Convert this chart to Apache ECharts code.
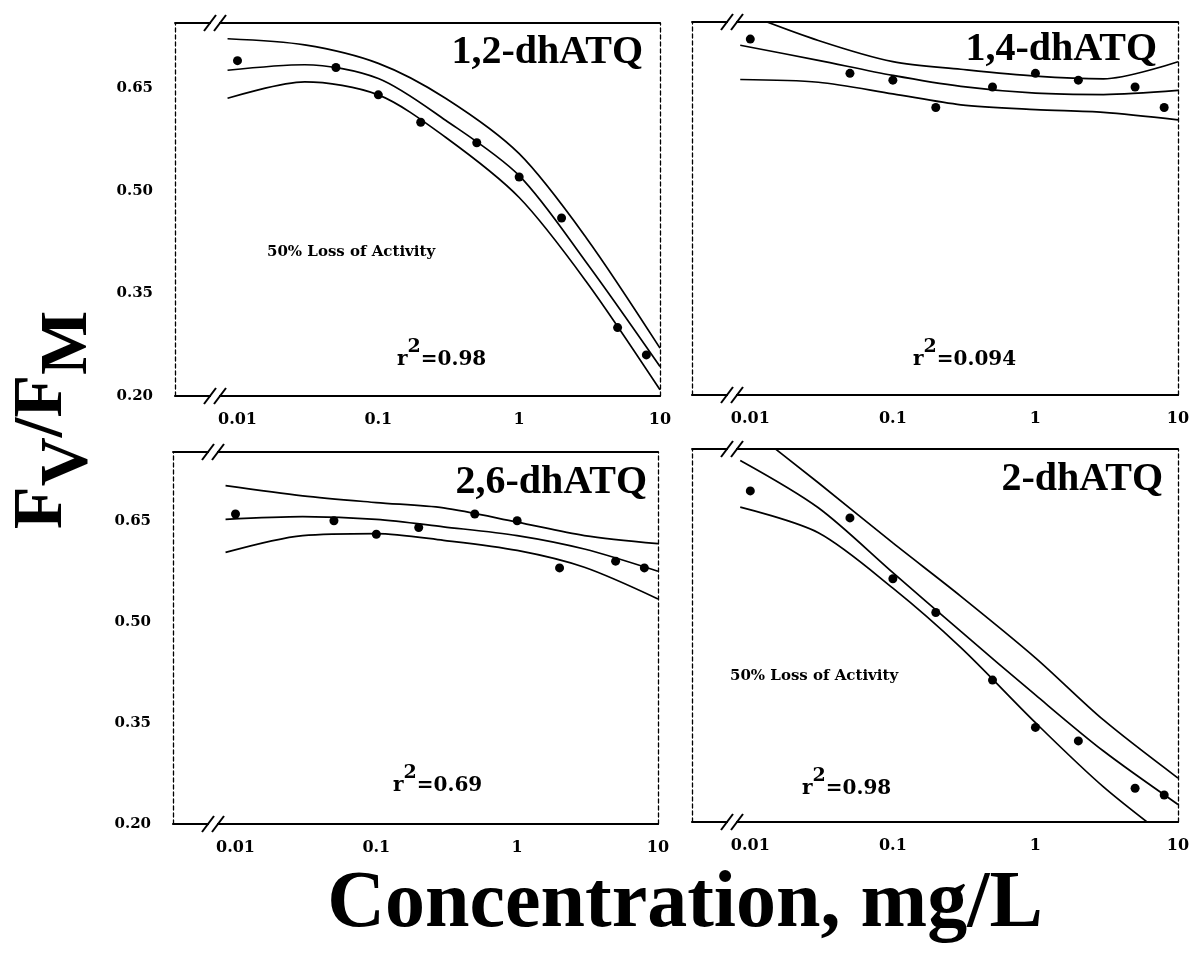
<!DOCTYPE html>
<html><head><meta charset="utf-8">
<script src="https://cdn.jsdelivr.net/npm/echarts@6/dist/echarts.min.js"></script>
<style>html,body{margin:0;padding:0;background:#fff}#c{width:1195px;height:960px}</style>
</head><body><div id="c"></div>
<script>
// ---------- data ----------
const concentrations = [0.01, 0.05, 0.1, 0.2, 0.5, 1, 2, 5, 8];
const curveX = [0.0085, 0.03, 0.1, 0.3, 1, 3, 10];
const xTickLabels = ['0.01', '0.1', '1', '10'];
const yTickLabels = ['0.20', '0.35', '0.50', '0.65'];
const panelNames = ['1,2-dhATQ', '1,4-dhATQ', '2,6-dhATQ', '2-dhATQ'];
const rSquared = ['0.98', '0.094', '0.69', '0.98'];

const obs12 = [0.69, 0.68, 0.64, 0.60, 0.57, 0.52, 0.46, 0.30, 0.26];
const fit12 = [0.676, 0.684, 0.664, 0.603, 0.522, 0.395, 0.243];
const up12  = [0.722, 0.713, 0.686, 0.635, 0.554, 0.431, 0.270];
const lo12  = [0.635, 0.659, 0.640, 0.578, 0.490, 0.367, 0.209];

const obs14 = [0.72, 0.67, 0.66, 0.62, 0.65, 0.67, 0.66, 0.65, 0.62];
const fit14 = [0.711, 0.689, 0.667, 0.651, 0.641, 0.639, 0.645];
const up14  = [0.760, 0.718, 0.687, 0.676, 0.666, 0.662, 0.687];
const lo14  = [0.661, 0.657, 0.640, 0.624, 0.617, 0.613, 0.602];

const obs26 = [0.66, 0.65, 0.63, 0.64, 0.66, 0.65, 0.58, 0.59, 0.58];
const fit26 = [0.652, 0.656, 0.652, 0.641, 0.628, 0.608, 0.575];
const up26  = [0.702, 0.687, 0.677, 0.669, 0.648, 0.628, 0.616];
const lo26  = [0.603, 0.628, 0.631, 0.621, 0.606, 0.581, 0.534];

const obs2 = [0.69, 0.65, 0.56, 0.51, 0.41, 0.34, 0.32, 0.25, 0.24];
const fit2 = [0.735, 0.665, 0.569, 0.482, 0.388, 0.305, 0.226];
const up2  = [0.793, 0.702, 0.613, 0.534, 0.443, 0.351, 0.265];
const lo2  = [0.666, 0.628, 0.546, 0.458, 0.347, 0.252, 0.165];

const panelData = [
  {obs: obs12, fit: fit12, up: up12, lo: lo12},
  {obs: obs14, fit: fit14, up: up14, lo: lo14},
  {obs: obs26, fit: fit26, up: up26, lo: lo26},
  {obs: obs2,  fit: fit2,  up: up2,  lo: lo2}
];

// ---------- layout ----------
const layout = [
  {left: 175, top: 23,  width: 485, height: 373, xmin: 0.0036, ymax: 0.745, yLabels: true},
  {left: 692, top: 22,  width: 486, height: 373, xmin: 0.0039, ymax: 0.745, yLabels: false},
  {left: 173, top: 452, width: 485, height: 372, xmin: 0.0036, ymax: 0.752, yLabels: true},
  {left: 692, top: 449, width: 486, height: 373, xmin: 0.0039, ymax: 0.752, yLabels: false}
];
const titlePos = [[643, 53], [1157, 50], [647, 483], [1163, 480]];
const rPos = [[397, 360], [913, 360], [393, 786], [802, 789]];

const serif = 'Liberation Serif';
const dserif = 'DejaVu Serif';

const grids = [], xAxes = [], yAxes = [], series = [], graphic = [];

layout.forEach((g, i) => {
  grids.push({left: g.left, top: g.top, width: g.width, height: g.height, outerBoundsMode: 'none', containLabel: false});
  xAxes.push({
    type: 'log', logBase: 10, gridIndex: i, min: g.xmin, max: 10,
    axisLine: {show: true, onZero: false, lineStyle: {color: '#000', width: 2.2}},
    axisTick: {show: false}, splitLine: {show: false}, minorTick: {show: false},
    axisLabel: {
      show: true, margin: 16, color: '#000', fontFamily: dserif, fontWeight: 'bold', fontSize: 16,
      showMinLabel: true, showMaxLabel: true,
      formatter: v => {
        const l = Math.log10(v), r = Math.round(l);
        if (Math.abs(l - r) < 1e-6 && r >= -2 && r <= 1) return xTickLabels[r + 2];
        return '';
      }
    }
  });
  xAxes.push({
    type: 'value', gridIndex: i, position: 'top', min: 0, max: 1,
    axisLine: {show: true, onZero: false, lineStyle: {color: '#000', width: 1.8}},
    axisTick: {show: false}, axisLabel: {show: false}, splitLine: {show: false}
  });
  yAxes.push({
    type: 'value', gridIndex: i, min: 0.2, max: g.ymax, interval: 0.15,
    axisLine: {show: true, onZero: false, lineStyle: {color: '#000', width: 1.3, type: [4, 3]}},
    axisTick: {show: false}, splitLine: {show: false},
    axisLabel: {
      show: g.yLabels, margin: 22, color: '#000', fontFamily: dserif, fontWeight: 'bold', fontSize: 15,
      formatter: v => { const s = v.toFixed(2); return yTickLabels.includes(s) ? s : ''; }
    }
  });
  yAxes.push({
    type: 'value', gridIndex: i, position: 'right', min: 0, max: 1,
    axisLine: {show: true, onZero: false, lineStyle: {color: '#000', width: 1.3, type: [4, 3]}},
    axisTick: {show: false}, axisLabel: {show: false}, splitLine: {show: false}
  });

  const d = panelData[i];
  const lineS = (vals) => ({
    type: 'line', xAxisIndex: 2 * i, yAxisIndex: 2 * i, smooth: 0.3, symbol: 'none', silent: true,
    lineStyle: {color: '#000', width: 1.7},
    data: curveX.map((x, k) => [x, vals[k]])
  });
  series.push(lineS(d.up), lineS(d.fit), lineS(d.lo));
  series.push({
    type: 'scatter', xAxisIndex: 2 * i, yAxisIndex: 2 * i, symbolSize: 9,
    itemStyle: {color: '#000', opacity: 1},
    data: concentrations.map((x, k) => [x, d.obs[k]])
  });

  // panel title
  graphic.push({
    type: 'text', x: titlePos[i][0], y: titlePos[i][1], z: 10,
    style: {text: panelNames[i], fill: '#000', font: 'bold 40px "' + serif + '"', align: 'right', verticalAlign: 'middle'}
  });
  // r^2 annotation
  graphic.push({
    type: 'text', x: rPos[i][0], y: rPos[i][1], z: 10,
    style: {
      text: '{m|r}{s|2}{m|=' + rSquared[i] + '}', align: 'left', verticalAlign: 'middle',
      rich: {
        m: {fontFamily: dserif, fontWeight: 'bold', fontSize: 20, fill: '#000'},
        s: {fontFamily: dserif, fontWeight: 'bold', fontSize: 19, fill: '#000', padding: [0, 0, 26, 0]}
      }
    }
  });
  // axis break marks
  [g.top, g.top + g.height].forEach(yy => {
    const cx = g.left + 40;
    graphic.push({type: 'rect', z: 20, shape: {x: cx - 4, y: yy - 3, width: 8, height: 6}, style: {fill: '#fff'}});
    [-5, 5].forEach(dx => {
      graphic.push({type: 'line', z: 21, shape: {x1: cx + dx - 6, y1: yy + 8, x2: cx + dx + 6, y2: yy - 8},
        style: {stroke: '#000', lineWidth: 2}});
    });
  });
});

// 50% loss annotations
[[267, 252], [730, 676]].forEach(p => {
  graphic.push({type: 'text', x: p[0], y: p[1], z: 10,
    style: {text: '50% Loss of Activity', fill: '#000', font: 'bold 15px "' + dserif + '"', align: 'left', verticalAlign: 'middle'}});
});

// axis titles
graphic.push({
  type: 'text', x: 43, y: 420, rotation: Math.PI / 2, z: 10,
  style: {
    text: '{m|F}{s|V}{m|/F}{s|M}', align: 'center', verticalAlign: 'middle',
    rich: {
      m: {fontFamily: serif, fontWeight: 'bold', fontSize: 70, fill: '#000'},
      s: {fontFamily: serif, fontWeight: 'bold', fontSize: 68, fill: '#000', padding: [50, 0, 0, 0]}
    }
  }
});
graphic.push({
  type: 'text', x: 685, y: 905, z: 10,
  style: {text: 'Concentration, mg/L', fill: '#000', font: 'bold 80px "' + serif + '"', align: 'center', verticalAlign: 'middle'}
});

const chart = echarts.init(document.getElementById('c'), null, {renderer: 'canvas'});
chart.setOption({
  backgroundColor: '#fff',
  animation: false,
  grid: grids, xAxis: xAxes, yAxis: yAxes, series: series, graphic: graphic
});
</script></body></html>
